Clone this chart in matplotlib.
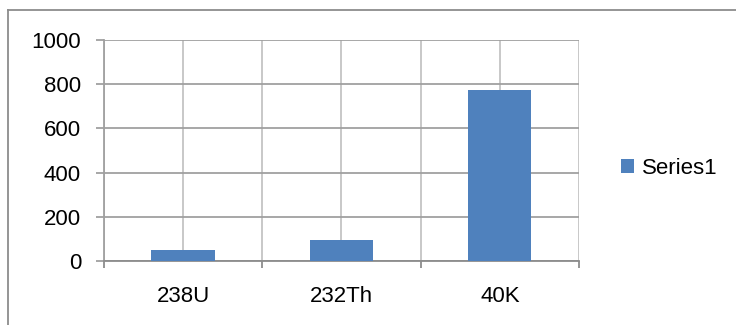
import matplotlib.pyplot as plt
import numpy as np
from matplotlib.lines import Line2D

categories = ["238U", "232Th", "40K"]
values = [50, 97, 776]
series_name = "Series1"

plt.rcParams['font.family'] = ['Liberation Sans', 'DejaVu Sans']

W, H = 736, 325
fig = plt.figure(figsize=(W / 100, H / 100), dpi=100)

# Plot area in pixel terms
left, right, top, bottom = 104, 579, 40, 261
ax = fig.add_axes([left / W, 1 - bottom / H, (right - left) / W, (bottom - top) / H])

x = np.arange(len(categories))
ax.bar(x, values, width=0.4, color="#4F81BD", zorder=3, label=series_name)

ax.set_xlim(-0.5, len(categories) - 0.5)
ax.set_ylim(0, 1000)
ax.set_yticks(np.arange(0, 1001, 200))
ax.set_xticks(x)
ax.set_xticks(np.arange(-0.5, len(categories), 1), minor=True)
ax.set_xticklabels(categories)

grid_col = "#A0A0A0"
ax.grid(True, axis="y", color=grid_col, linewidth=1.3, zorder=0)
ax.grid(True, axis="x", which="both", color="#C4C4C4", linewidth=1.3, zorder=0)

for s in ["top", "right"]:
    ax.spines[s].set_visible(False)
ax.spines["left"].set_color(grid_col)
ax.spines["bottom"].set_color("#8C8C8C")
ax.spines["left"].set_linewidth(1.3)
ax.spines["bottom"].set_linewidth(1.3)

ax.tick_params(axis="y", length=5.5, width=1.3, color=grid_col, pad=11, labelsize=16)
ax.tick_params(axis="x", which="major", length=0, pad=18, labelsize=16)
ax.tick_params(axis="x", which="minor", length=5, width=1.3, color="#8C8C8C")

# Chart border
fig.add_artist(Line2D([8 / W, 8 / W], [0, 1 - 10 / H], color="#8C8C8C", linewidth=1.3))
fig.add_artist(Line2D([8 / W, 1], [1 - 10 / H, 1 - 10 / H], color="#8C8C8C", linewidth=1.3))

fig.legend(loc="center left", bbox_to_anchor=(621 / W, 1 - 168 / H), frameon=False,
           fontsize=16, handlelength=0.6, handleheight=0.6, handletextpad=0.35,
           borderpad=0, borderaxespad=0)

fig.savefig("out.png", dpi=100)
